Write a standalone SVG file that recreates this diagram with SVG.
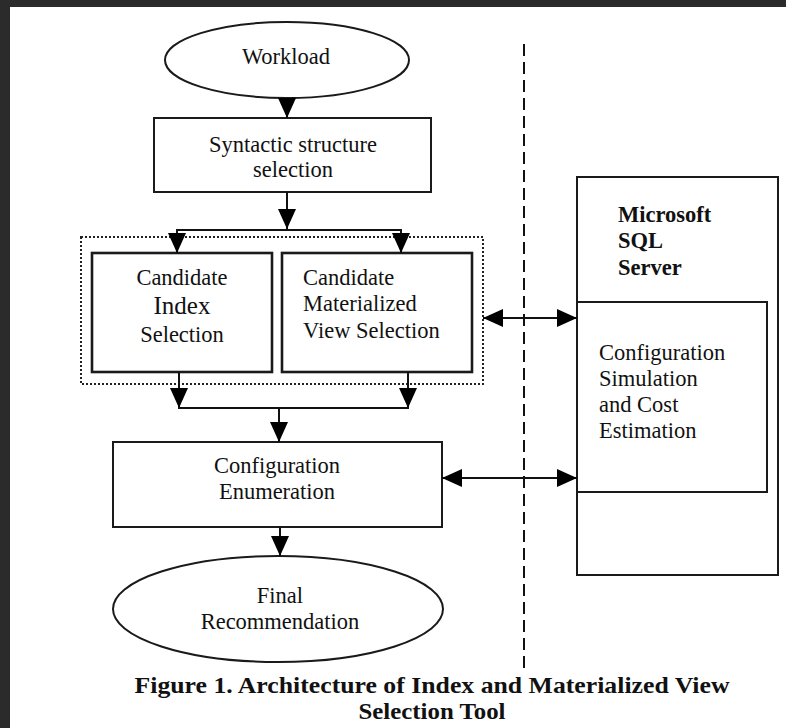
<svg xmlns="http://www.w3.org/2000/svg" width="786" height="728" viewBox="0 0 786 728">
  <style>
    .box { fill: #ffffff; stroke: #1a1a1a; stroke-width: 2; }
    .thick { stroke-width: 2.6; }
    .grp { fill: none; stroke: #222222; stroke-width: 2; stroke-dasharray: 2 2; }
    .lbl { font-family: "Liberation Serif", "Times New Roman", serif; font-size: 22.5px; fill: #111111; }
    .mid { text-anchor: middle; }
    .bold { font-weight: bold; }
    .wire { fill: none; stroke: #111111; stroke-width: 2; }
    .cap { font-family: "Liberation Serif", "Times New Roman", serif; font-size: 23px; font-weight: bold; fill: #111111; text-anchor: middle; }
  </style>
  <defs>
    <marker id="head" markerUnits="userSpaceOnUse" markerWidth="20" markerHeight="18" refX="20" refY="9" orient="auto-start-reverse">
      <path d="M0,0 L20,9 L0,18 z" fill="#000000"/>
    </marker>
  </defs>

  <!-- page frame -->
  <rect x="0" y="0" width="786" height="728" fill="#2b2b2b"/>
  <rect x="10" y="7" width="776" height="721" fill="#ffffff"/>

  <!-- system boundary -->
  <line x1="524" y1="44" x2="524" y2="668" stroke="#111111" stroke-width="2" stroke-dasharray="12 6"/>

  <g id="workload">
    <ellipse class="box" cx="287" cy="60" rx="122" ry="38"/>
    <text class="lbl mid" x="286" y="64">Workload</text>
  </g>

  <g id="syntactic-selection">
    <rect class="box" x="154" y="118" width="277" height="74"/>
    <text class="lbl mid" x="293" y="152">Syntactic structure</text>
    <text class="lbl mid" x="293" y="177">selection</text>
  </g>

  <g id="candidate-group">
    <rect class="grp" x="81" y="237" width="402" height="147"/>
  </g>

  <g id="candidate-index">
    <rect class="box thick" x="92" y="253" width="180" height="119"/>
    <text class="lbl mid" x="182" y="285">Candidate</text>
    <text class="lbl mid" x="182" y="314" style="font-size:25px">Index</text>
    <text class="lbl mid" x="182" y="342">Selection</text>
  </g>

  <g id="candidate-mv">
    <rect class="box thick" x="282" y="253" width="190" height="119"/>
    <text class="lbl" x="303" y="285">Candidate</text>
    <text class="lbl" x="303" y="311">Materialized</text>
    <text class="lbl" x="303" y="338">View Selection</text>
  </g>

  <g id="config-enumeration">
    <rect class="box" x="113" y="442" width="329" height="85" stroke="#444444"/>
    <text class="lbl mid" x="277" y="473">Configuration</text>
    <text class="lbl mid" x="277" y="499">Enumeration</text>
  </g>

  <g id="final-recommendation">
    <ellipse class="box" cx="278" cy="609" rx="165" ry="53"/>
    <text class="lbl mid" x="280" y="603">Final</text>
    <text class="lbl mid" x="280" y="629">Recommendation</text>
  </g>

  <g id="sql-server">
    <rect class="box" x="577" y="177" width="201" height="398"/>
    <text class="lbl bold" x="618" y="222">Microsoft</text>
    <text class="lbl bold" x="618" y="248">SQL</text>
    <text class="lbl bold" x="618" y="275">Server</text>
  </g>

  <g id="cost-estimation">
    <rect class="box" x="577" y="302" width="190" height="190"/>
    <text class="lbl" x="599" y="360">Configuration</text>
    <text class="lbl" x="599" y="386">Simulation</text>
    <text class="lbl" x="599" y="412">and Cost</text>
    <text class="lbl" x="599" y="438">Estimation</text>
  </g>

  <g id="connectors">
    <line class="wire" x1="287" y1="98" x2="287" y2="118" marker-end="url(#head)"/>
    <line class="wire" x1="287" y1="192" x2="287" y2="229" marker-end="url(#head)"/>
    <polyline class="wire" points="177,253 177,230 401,230 401,253" marker-start="url(#head)" marker-end="url(#head)"/>
    <line class="wire" x1="179" y1="372" x2="179" y2="408" marker-end="url(#head)"/>
    <line class="wire" x1="408" y1="372" x2="408" y2="408" marker-end="url(#head)"/>
    <line class="wire" x1="178" y1="408" x2="409" y2="408"/>
    <line class="wire" x1="279" y1="408" x2="279" y2="442" marker-end="url(#head)"/>
    <line class="wire" x1="280" y1="527" x2="280" y2="556" marker-end="url(#head)"/>
    <line class="wire" x1="483" y1="318" x2="577" y2="318" marker-start="url(#head)" marker-end="url(#head)"/>
    <line class="wire" x1="442" y1="478" x2="577" y2="478" marker-start="url(#head)" marker-end="url(#head)"/>
  </g>

  <!-- caption -->
  <text class="cap" x="432" y="693" textLength="595" lengthAdjust="spacingAndGlyphs">Figure 1. Architecture of Index and Materialized View</text>
  <text class="cap" x="432" y="719" textLength="147" lengthAdjust="spacingAndGlyphs">Selection Tool</text>
</svg>
